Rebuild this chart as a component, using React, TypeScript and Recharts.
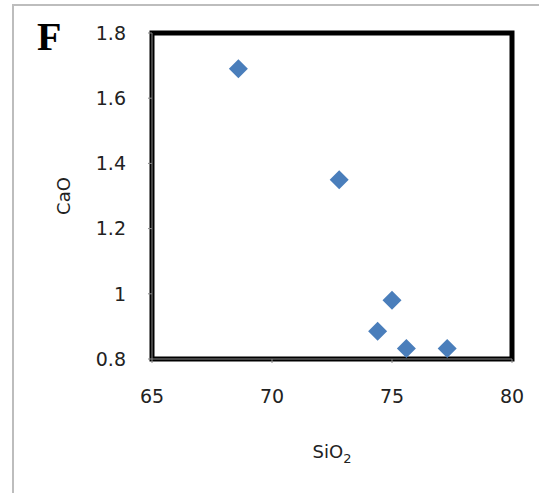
import { ScatterChart, Scatter, XAxis, YAxis, ReferenceArea, Label } from "recharts";

// SiO2 vs CaO samples
const sio2 = [68.6, 72.8, 75.0, 74.4, 75.6, 77.3];
const cao = [1.69, 1.35, 0.98, 0.885, 0.832, 0.832];
const xTicks = [65, 70, 75, 80];
const yTicks = [0.8, 1, 1.2, 1.4, 1.6, 1.8];

const data = sio2.map((x, i) => ({ x, y: cao[i] }));

const font = "'DejaVu Sans', sans-serif";

const Diamond = (props: any) => {
  const { cx, cy } = props;
  const r = 9.5;
  return (
    <polygon
      points={`${cx},${cy - r} ${cx + r},${cy} ${cx},${cy + r} ${cx - r},${cy}`}
      fill="#4a7ebb"
    />
  );
};

const XTitle = (props: any) => {
  const { x, y, width } = props.viewBox;
  return (
    <text x={x + width / 2} y={y + 99} textAnchor="middle" fontFamily={font} fontSize={18} fill="#222">
      SiO<tspan fontSize={13} dy={5}>2</tspan>
    </text>
  );
};

const YTitle = (props: any) => {
  const { y, height } = props.viewBox;
  const cx = 70;
  const cy = y + height / 2;
  return (
    <text
      x={cx}
      y={cy}
      transform={`rotate(-90 ${cx} ${cy})`}
      textAnchor="middle"
      fontFamily={font}
      fontSize={18}
      fill="#222"
    >
      CaO
    </text>
  );
};

export default function App() {
  return (
    <div style={{ position: "absolute", left: 0, top: 0, width: 539, height: 493, background: "#fff", overflow: "hidden" }}>
      <div
        style={{
          position: "absolute",
          left: 12,
          top: 4,
          width: 560,
          height: 520,
          borderTop: "2px solid #bdbdbd",
          borderLeft: "2px solid #bdbdbd",
        }}
      />
      <div
        style={{
          position: "absolute",
          left: 37,
          top: 14,
          fontFamily: "'Liberation Serif', serif",
          fontWeight: "bold",
          fontSize: 40,
          lineHeight: "46px",
          color: "#000",
        }}
      >
        F
      </div>
      <ScatterChart
        width={539}
        height={493}
        margin={{ top: 33, right: 27, bottom: 74, left: 92 }}
        style={{ position: "absolute", left: 0, top: 0 }}
      >
        <XAxis
          type="number"
          dataKey="x"
          domain={[65, 80]}
          ticks={xTicks}
          height={60}
          tickSize={4}
          tickMargin={27}
          stroke="#888"
          tick={{ fill: "#222", fontFamily: font, fontSize: 19 }}
        >
          <Label content={<XTitle />} />
        </XAxis>
        <YAxis
          type="number"
          dataKey="y"
          domain={[0.8, 1.8]}
          ticks={yTicks}
          width={60}
          tickSize={4}
          tickMargin={22}
          stroke="#888"
          tick={{ fill: "#222", fontFamily: font, fontSize: 19 }}
        >
          <Label content={<YTitle />} />
        </YAxis>
        <ReferenceArea x1={65} x2={80} y1={0.8} y2={1.8} fill="none" stroke="#000" strokeWidth={5} />
        <Scatter data={data} shape={<Diamond />} isAnimationActive={false} />
      </ScatterChart>
    </div>
  );
}
